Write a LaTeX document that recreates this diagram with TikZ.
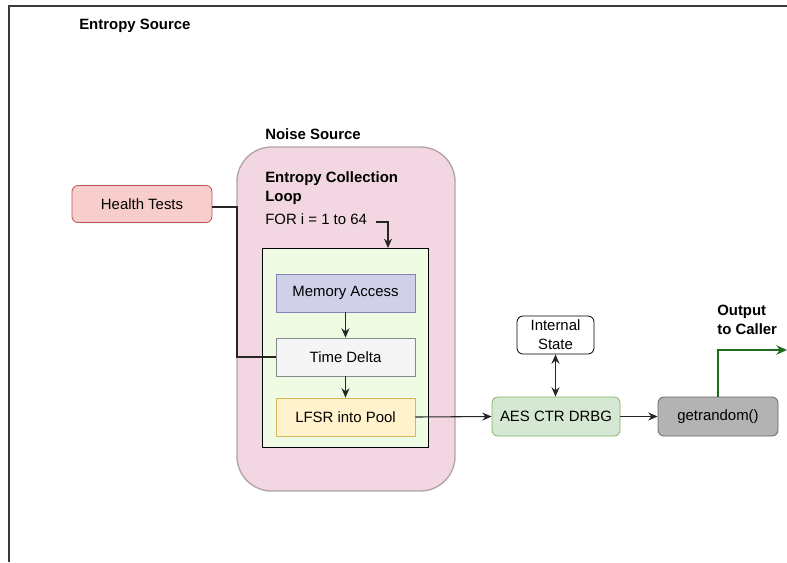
\documentclass[tikz,border=0pt]{standalone}
\usepackage{fontspec}
\setmainfont{Liberation Sans}
\usetikzlibrary{arrows.meta}
\definecolor{frame}{HTML}{3A3A3A}
\definecolor{noisefill}{HTML}{F2D7E3}
\definecolor{noisedraw}{HTML}{B0A3AA}
\definecolor{loopfill}{HTML}{EFFBE2}
\definecolor{memfill}{HTML}{D0D0E8}
\definecolor{memdraw}{HTML}{8585B5}
\definecolor{timefill}{HTML}{F5F5F5}
\definecolor{timedraw}{HTML}{8A8A8A}
\definecolor{lfsrfill}{HTML}{FFF2CC}
\definecolor{lfsrdraw}{HTML}{D6B656}
\definecolor{healthfill}{HTML}{F8CECC}
\definecolor{healthdraw}{HTML}{B85450}
\definecolor{aesfill}{HTML}{D5E8D4}
\definecolor{aesdraw}{HTML}{82B366}
\definecolor{getfill}{HTML}{B3B3B3}
\definecolor{getdraw}{HTML}{666666}
\definecolor{outgreen}{HTML}{1E6B1E}
\begin{document}
\begin{tikzpicture}[x=0.75pt,y=-0.75pt,
  every node/.style={font=\fontsize{11.2}{14.2}\selectfont, inner sep=0pt},
  blk/.style={draw, minimum width=104.25pt, minimum height=28.5pt, line width=0.6pt},
  rblk/.style={blk, rounded corners=4.5pt},
  lbl/.style={font=\fontsize{11.2}{14.2}\selectfont\bfseries, align=left, anchor=west},
  arr/.style={-{Stealth[length=7pt,width=6pt]}, line width=0.8pt, draw=black!85},
  dblarr/.style={{Stealth[length=7pt,width=6pt]}-{Stealth[length=7pt,width=6pt]}, line width=0.8pt, draw=black!85}
]
\useasboundingbox (0,0) rectangle (787,562);
% outer frame
\draw[frame, line width=1.6pt] (9,562) -- (9,6) -- (787,6);
\node[lbl] (es) at (79,26) {Entropy Source};
% noise source
\node[lbl] (ns) at (265,134) {Noise Source};
\draw[fill=noisefill, draw=noisedraw, line width=1pt, rounded corners=26pt] (237,147) rectangle (455,491);
\node[lbl, anchor=north west] (ecl) at (265,171) {Entropy Collection\\Loop};
\node[anchor=west] (for) at (265,219) {FOR i = 1 to 64};
% loop box
\node[draw=black, fill=loopfill, line width=0.8pt, minimum width=124.5pt, minimum height=149.25pt, anchor=north west] (loop) at (262,248) {};
\coordinate (forend) at (376,222);
\draw[arr] (forend) -- (388,222) -- (loop.north -| 388,0);
\node[blk, fill=memfill, draw=memdraw] (mem) at (345.5,293) {Memory Access};
\node[blk, fill=timefill, draw=timedraw] (td) at (345.5,357) {Time Delta};
\node[blk, fill=lfsrfill, draw=lfsrdraw] (lfsr) at (345.5,417) {LFSR into Pool};
\draw[arr] (mem) -- (td);
\draw[arr] (td) -- (lfsr);
% health tests
\node[rblk, fill=healthfill, draw=healthdraw, minimum width=105pt, minimum height=27.75pt] (ht) at (142,204) {Health Tests};
\draw[line width=1.6pt, black!85] (ht.east |- 0,207) -- (237,207) -- (237,357) -- (td.west);
% AES
\node[rblk, fill=aesfill, draw=aesdraw, minimum width=96pt, minimum height=29.25pt] (aes) at (556,416.5) {AES CTR DRBG};
\node[rblk, fill=white, draw=black, minimum width=57.75pt, minimum height=28.5pt, align=center] (is) at (555.5,335) {Internal\\State};
\draw[dblarr] (is.south) -- (aes.north -| is.south);
\draw[arr] (lfsr.east) -- (aes.west);
% getrandom
\node[rblk, fill=getfill, draw=getdraw, minimum width=90pt, minimum height=29.25pt] (get) at (718,416.5) {getrandom()};
\draw[arr] (aes) -- (get);
\coordinate (out) at (787,350);
\draw[-{Stealth[length=8pt,width=7pt]}, line width=1.6pt, outgreen] (get.north) -- (718,350) -- (out);
\node[lbl, anchor=north west] (oc) at (717,305) {Output\\to Caller};
\end{tikzpicture}
\end{document}
